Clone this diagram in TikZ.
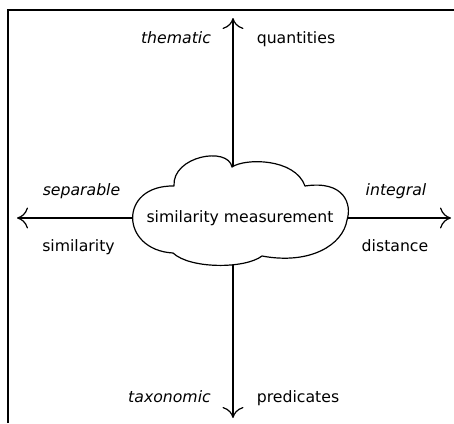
\documentclass[tikz,border=0pt]{standalone}
\usepackage{fontspec}
\setmainfont{DejaVu Sans}
\usetikzlibrary{arrows.meta}
\tikzset{
  axis/.style={line width=1.2pt,-{Computer Modern Rightarrow[length=11pt,width=21pt,line width=1.2pt]}},
  lbl/.style={anchor=base,font=\fontsize{15.7}{18}\selectfont,inner sep=0pt},
  ilbl/.style={lbl,font=\fontsize{15.7}{18}\selectfont\itshape},
  frame/.style={line width=1.4pt},
  cloudline/.style={draw,fill=white,line width=1.2pt,line join=round}
}
\begin{document}
\begin{tikzpicture}[x=1pt,y=-1pt]
\useasboundingbox (0,0) rectangle (454,423);
\draw[frame] (8,423) -- (8,10) -- (454,10);
\coordinate (o) at (233,218);
\coordinate (top) at (233,18);
\coordinate (bot) at (233,418);
\coordinate (lft) at (17,218);
\coordinate (rgt) at (451,218);
\draw[axis] (o) -- (top);
\draw[axis] (o) -- (bot);
\draw[axis] (o) -- (lft);
\draw[axis] (o) -- (rgt);
\coordinate (cA) at (174,186);
\coordinate (cB) at (232,167);
\coordinate (cC) at (305,186);
\coordinate (cR) at (347,220);
\coordinate (cE) at (262,256);
\coordinate (cF) at (173,253);
\path[cloudline] (cA) .. controls (172,156) and (228,146) .. (cB)
  .. controls (245,158) and (295,158) .. (cC)
  .. controls (345,180) and (352,205) .. (cR)
  .. controls (343,245) and (310,265) .. (cE)
  .. controls (245,269) and (190,269) .. (cF)
  .. controls (120,250) and (118,185) .. (cA) -- cycle;
\node[lbl] (sm) at (240,222.5) {similarity measurement};
\node[ilbl] (them) at (176,43) {thematic};
\node[lbl] (quant) at (296,43) {quantities};
\node[ilbl] (sep) at (81.5,195) {separable};
\node[lbl] (simi) at (78.5,251.5) {similarity};
\node[ilbl] (integ) at (396,195) {integral};
\node[lbl] (dist) at (395,251.5) {distance};
\node[ilbl] (tax) at (169.5,402) {taxonomic};
\node[lbl] (pred) at (298,402) {predicates};
\end{tikzpicture}
\end{document}
